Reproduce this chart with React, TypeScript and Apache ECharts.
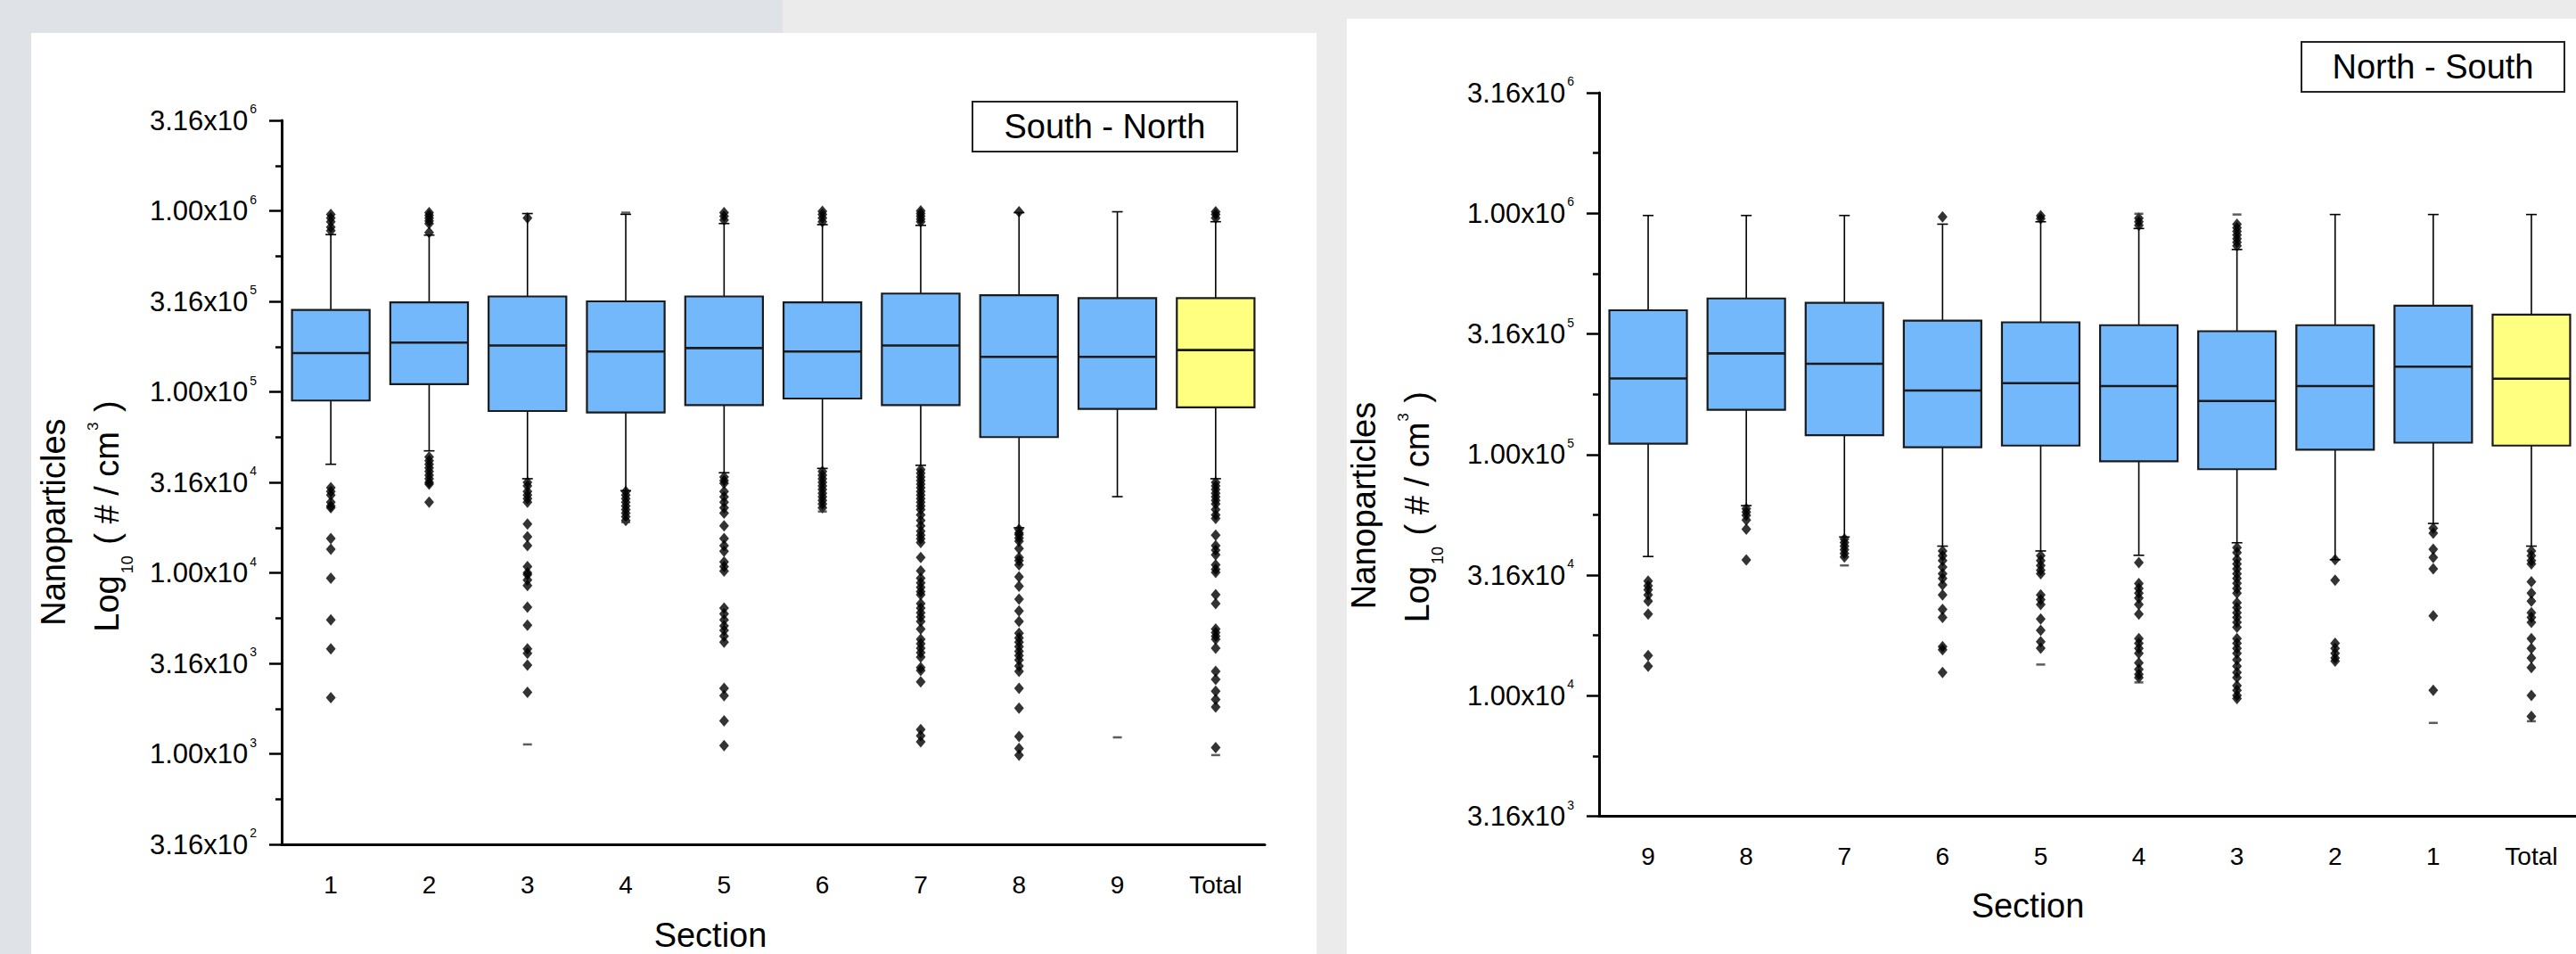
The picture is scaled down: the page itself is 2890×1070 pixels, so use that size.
import React, { useEffect, useRef } from 'react';
import * as echarts from 'echarts';

const FONT = '"Liberation Sans", Arial, Helvetica, sans-serif';
const BLUE = '#74b8fc';
const YELLOW = '#ffff80';

// ---------- South - North panel (values are log10 of #/cm3) ----------
const SN_CATEGORIES = ['1', '2', '3', '4', '5', '6', '7', '8', '9', 'Total'];
const SN_WHISKER_LOW = [4.6, 4.674, 4.52, 4.454, 4.553, 4.577, 4.594, 4.249, 4.421, 4.52];
const SN_Q1 = [4.952, 5.042, 4.894, 4.886, 4.927, 4.963, 4.927, 4.75, 4.906, 4.914];
const SN_MEDIAN = [5.214, 5.272, 5.256, 5.223, 5.242, 5.223, 5.256, 5.193, 5.193, 5.231];
const SN_Q3 = [5.453, 5.494, 5.527, 5.5, 5.527, 5.494, 5.543, 5.534, 5.518, 5.518];
const SN_WHISKER_HIGH = [5.869, 5.866, 5.985, 5.981, 5.93, 5.924, 5.92, 5.99, 5.995, 5.94];
const SN_OUTLIERS = [
  [5.98, 5.96, 5.94, 5.91, 5.89, 4.47, 4.45, 4.43, 4.39, 4.37, 4.36, 4.19, 4.13, 3.97, 3.74, 3.58, 3.31],
  [5.99, 5.975, 5.96, 5.945, 5.93, 5.88, 4.64, 4.62, 4.6, 4.58, 4.56, 4.54, 4.52, 4.5, 4.49, 4.39],
  [5.96, 4.5, 4.48, 4.45, 4.43, 4.41, 4.39, 4.27, 4.2, 4.15, 4.035, 4.0, 3.99, 3.96, 3.93, 3.81, 3.71, 3.58, 3.555, 3.49, 3.34],
  [4.45, 4.43, 4.41, 4.39, 4.37, 4.35, 4.33, 4.31, 4.29],
  [5.99, 5.97, 5.95, 4.53, 4.51, 4.495, 4.45, 4.42, 4.39, 4.36, 4.33, 4.26, 4.19, 4.15, 4.12, 4.06, 4.035, 4.01, 3.805, 3.773, 3.74, 3.707, 3.682, 3.65, 3.617, 3.362, 3.321, 3.182, 3.045],
  [5.998, 5.98, 5.96, 5.94, 4.56, 4.54, 4.52, 4.5, 4.48, 4.46, 4.44, 4.42, 4.4, 4.38, 4.36],
  [6.0, 5.985, 5.97, 5.955, 5.94, 4.57, 4.55, 4.53, 4.51, 4.49, 4.47, 4.45, 4.43, 4.41, 4.39, 4.37, 4.35, 4.32, 4.29, 4.26, 4.23, 4.208, 4.188, 4.167, 4.085, 4.011, 3.97, 3.945, 3.92, 3.896, 3.879, 3.83, 3.805, 3.78, 3.756, 3.731, 3.69, 3.633, 3.608, 3.584, 3.559, 3.534, 3.477, 3.46, 3.398, 3.134, 3.1, 3.067],
  [5.995, 4.24, 4.22, 4.21, 4.192, 4.175, 4.134, 4.085, 4.068, 4.044, 3.978, 3.926, 3.855, 3.789, 3.732, 3.666, 3.641, 3.617, 3.592, 3.567, 3.543, 3.518, 3.485, 3.456, 3.362, 3.252, 3.096, 3.029, 2.993],
  [],
  [5.995, 5.98, 5.96, 4.5, 4.48, 4.46, 4.44, 4.42, 4.4, 4.38, 4.35, 4.32, 4.3, 4.208, 4.15, 4.126, 4.1, 4.044, 4.02, 4.002, 3.879, 3.83, 3.69, 3.67, 3.65, 3.633, 3.584, 3.456, 3.411, 3.346, 3.3, 3.259, 3.034],
];
const SN_MIN_MAX = [[], [], [3.052], [5.99, 4.28], [], [4.339], [], [], [3.091], [2.993]];

// ---------- North - South panel ----------
const NS_CATEGORIES = ['9', '8', '7', '6', '5', '4', '3', '2', '1', 'Total'];
const NS_WHISKER_LOW = [4.577, 4.788, 4.658, 4.62, 4.6, 4.582, 4.634, 4.564, 4.714, 4.62];
const NS_Q1 = [5.045, 5.185, 5.08, 5.03, 5.037, 4.972, 4.939, 5.02, 5.049, 5.037];
const NS_MEDIAN = [5.315, 5.419, 5.376, 5.265, 5.296, 5.284, 5.222, 5.284, 5.364, 5.314];
const NS_Q3 = [5.598, 5.647, 5.629, 5.555, 5.548, 5.536, 5.511, 5.536, 5.617, 5.58];
const NS_WHISKER_HIGH = [5.991, 5.991, 5.991, 5.955, 5.965, 5.937, 5.85, 5.995, 5.995, 5.995];
const NS_OUTLIERS = [
  [4.475, 4.456, 4.439, 4.418, 4.392, 4.338, 4.166, 4.122],
  [4.775, 4.762, 4.748, 4.728, 4.69, 4.563],
  [4.65, 4.635, 4.62, 4.605, 4.59, 4.575],
  [5.985, 4.6, 4.58, 4.56, 4.533, 4.506, 4.486, 4.459, 4.418, 4.358, 4.324, 4.203, 4.19, 4.096],
  [5.99, 5.978, 4.58, 4.56, 4.54, 4.52, 4.506, 4.418, 4.398, 4.378, 4.318, 4.271, 4.224, 4.197],
  [5.98, 5.965, 5.95, 4.552, 4.465, 4.445, 4.425, 4.405, 4.378, 4.338, 4.237, 4.217, 4.196, 4.176, 4.136, 4.109, 4.089, 4.075],
  [5.955, 5.94, 5.925, 5.91, 5.895, 5.88, 5.865, 4.614, 4.593, 4.566, 4.546, 4.526, 4.506, 4.486, 4.466, 4.445, 4.425, 4.385, 4.365, 4.344, 4.324, 4.304, 4.284, 4.237, 4.217, 4.196, 4.176, 4.149, 4.122, 4.096, 4.075, 4.042, 4.022, 4.001, 3.988],
  [4.564, 4.479, 4.217, 4.196, 4.176, 4.156, 4.143],
  [4.694, 4.674, 4.607, 4.573, 4.526, 4.331, 4.022],
  [4.6, 4.58, 4.56, 4.546, 4.472, 4.425, 4.392, 4.344, 4.324, 4.304, 4.237, 4.196, 4.156, 4.116, 4.001, 3.914],
];
const NS_MIN_MAX = [[], [], [4.54], [], [4.129], [5.998, 4.055], [5.995], [], [3.887], [3.894]];

function tickLabel(v: number) {
  const e = Math.floor(v + 1e-6);
  const m = Math.pow(10, v - e);
  return `{m|${m.toFixed(2)}x10}{e|${e}}`;
}

function renderBox(cats: string[]) {
  return (params: any, api: any) => {
    const i = api.value(0);
    const pLo = api.coord([i, api.value(1)]);
    const pQ1 = api.coord([i, api.value(2)]);
    const pMd = api.coord([i, api.value(3)]);
    const pQ3 = api.coord([i, api.value(4)]);
    const pHi = api.coord([i, api.value(5)]);
    const band = api.size([1, 0])[0];
    const w = band * 0.79;
    const cx = pMd[0];
    const cap = 6;
    const fill = cats[params.dataIndex] === 'Total' ? YELLOW : BLUE;
    const thin = { stroke: '#000', lineWidth: 1.6 };
    return {
      type: 'group',
      children: [
        { type: 'line', shape: { x1: cx, y1: pHi[1], x2: cx, y2: pQ3[1] }, style: thin },
        { type: 'line', shape: { x1: cx, y1: pQ1[1], x2: cx, y2: pLo[1] }, style: thin },
        { type: 'line', shape: { x1: cx - cap, y1: pHi[1], x2: cx + cap, y2: pHi[1] }, style: thin },
        { type: 'line', shape: { x1: cx - cap, y1: pLo[1], x2: cx + cap, y2: pLo[1] }, style: thin },
        {
          type: 'rect',
          shape: { x: cx - w / 2, y: pQ3[1], width: w, height: pQ1[1] - pQ3[1] },
          style: { fill, stroke: '#1a1a1a', lineWidth: 2.2 },
        },
        {
          type: 'line',
          shape: { x1: cx - w / 2, y1: pMd[1], x2: cx + w / 2, y2: pMd[1] },
          style: { stroke: '#1a1a1a', lineWidth: 2.6 },
        },
      ],
    };
  };
}

function panelSeries(
  g: number,
  cats: string[],
  lo: number[],
  q1: number[],
  md: number[],
  q3: number[],
  hi: number[],
  outliers: number[][],
  minmax: number[][]
) {
  return [
    {
      type: 'custom',
      xAxisIndex: g,
      yAxisIndex: g,
      z: 2,
      encode: { x: 0, y: [1, 2, 3, 4, 5] },
      data: cats.map((_, i) => [i, lo[i], q1[i], md[i], q3[i], hi[i]]),
      renderItem: renderBox(cats),
    },
    {
      type: 'scatter',
      xAxisIndex: g,
      yAxisIndex: g,
      z: 4,
      symbol: 'diamond',
      symbolSize: [11, 13],
      itemStyle: { color: '#000' },
      data: outliers.flatMap((arr, i) => arr.map((v) => [i, v])),
    },
    {
      type: 'scatter',
      xAxisIndex: g,
      yAxisIndex: g,
      z: 4,
      symbol: 'rect',
      symbolSize: [10, 2.5],
      itemStyle: { color: '#333' },
      data: minmax.flatMap((arr, i) => arr.map((v) => [i, v])),
    },
  ];
}

function xAxis(g: number, cats: string[]) {
  return {
    type: 'category',
    gridIndex: g,
    data: cats,
    boundaryGap: true,
    axisLine: { onZero: false, lineStyle: { color: '#000', width: 3 } },
    axisTick: { alignWithLabel: true, length: 17, lineStyle: { color: '#000', width: 2.5 } },
    axisLabel: { margin: 31, fontSize: 28, color: '#000', fontFamily: FONT },
    splitLine: { show: false },
  };
}

function yAxis(g: number, min: number) {
  return {
    type: 'value',
    gridIndex: g,
    min,
    max: 6.5,
    interval: 0.5,
    axisLine: { show: true, onZero: false, lineStyle: { color: '#000', width: 3 } },
    axisTick: { show: true, length: 14, lineStyle: { color: '#000', width: 2.5 } },
    minorTick: { show: true, splitNumber: 2, length: 7, lineStyle: { color: '#000', width: 2.5 } },
    splitLine: { show: false },
    axisLabel: {
      margin: 28,
      formatter: tickLabel,
      rich: {
        m: { fontSize: 31, lineHeight: 40, color: '#000', fontFamily: FONT },
        e: { fontSize: 14, lineHeight: 14, verticalAlign: 'top', color: '#000', fontFamily: FONT, padding: [0, 0, 0, 2] },
      },
    },
  };
}

function yTitle(x1: number, y1: number, x2: number, y2: number) {
  return [
    {
      type: 'text',
      x: x1,
      y: y1,
      rotation: Math.PI / 2,
      style: {
        text: 'Nanoparticles',
        fontSize: 38,
        fontFamily: FONT,
        fill: '#000',
        align: 'center',
        verticalAlign: 'middle',
      },
    },
    {
      type: 'text',
      x: x2,
      y: y2,
      rotation: Math.PI / 2,
      style: {
        text: '{a|Log}{b|10}{a| ( # / cm}{c|3}{a| )}',
        fill: '#000',
        align: 'center',
        verticalAlign: 'middle',
        rich: {
          a: { fontSize: 38, lineHeight: 64, fontFamily: FONT, fill: '#000' },
          b: { fontSize: 18, lineHeight: 17, verticalAlign: 'bottom', fontFamily: FONT, fill: '#000', padding: [0, 2, 0, 2] },
          c: { fontSize: 17, lineHeight: 15, verticalAlign: 'top', padding: [8, 1, 0, 1], fontFamily: FONT, fill: '#000' },
        },
      },
    },
  ];
}

function labelBox(x: number, y: number, w: number, h: number, text: string) {
  return [
    { type: 'rect', shape: { x, y, width: w, height: h }, style: { fill: '#fff', stroke: '#222', lineWidth: 2 } },
    {
      type: 'text',
      x: x + w / 2,
      y: y + h / 2,
      style: { text, fontSize: 38, fontFamily: FONT, fill: '#000', align: 'center', verticalAlign: 'middle' },
    },
  ];
}

function sectionTitle(x: number, y: number) {
  return {
    type: 'text',
    x,
    y,
    style: { text: 'Section', fontSize: 38, fontFamily: FONT, fill: '#000', align: 'center', verticalAlign: 'middle' },
  };
}

export default function App() {
  const ref = useRef<HTMLDivElement>(null);
  useEffect(() => {
    const chart = echarts.init(ref.current!, null, { renderer: 'svg' });
    const option: any = {
      animation: false,
      backgroundColor: 'transparent',
      grid: [
        { left: 316, top: 135, width: 1103, height: 812, containLabel: false, outerBoundsMode: 'none' },
        { left: 1794, top: 104, width: 1101, height: 811.5, containLabel: false, outerBoundsMode: 'none' },
      ],
      xAxis: [xAxis(0, SN_CATEGORIES), xAxis(1, NS_CATEGORIES)],
      yAxis: [yAxis(0, 2.5), yAxis(1, 3.5)],
      series: [
        ...panelSeries(0, SN_CATEGORIES, SN_WHISKER_LOW, SN_Q1, SN_MEDIAN, SN_Q3, SN_WHISKER_HIGH, SN_OUTLIERS, SN_MIN_MAX),
        ...panelSeries(1, NS_CATEGORIES, NS_WHISKER_LOW, NS_Q1, NS_MEDIAN, NS_Q3, NS_WHISKER_HIGH, NS_OUTLIERS, NS_MIN_MAX),
      ],
      graphic: [
        ...yTitle(60.1, 585.6, 119.8, 579),
        ...yTitle(1530.1, 567, 1590.1, 568.7),
        ...labelBox(1091, 114, 297, 56, 'South - North'),
        ...labelBox(2582, 47, 295, 56, 'North - South'),
        sectionTitle(797, 1048.5),
        sectionTitle(2275, 1015.8),
      ],
    };
    chart.setOption(option);
    return () => chart.dispose();
  }, []);
  return (
    <div style={{ position: 'absolute', left: 0, top: 0, width: 2890, height: 1070, background: '#ebebeb', overflow: 'hidden' }}>
      <div style={{ position: 'absolute', left: 0, top: 0, width: 878, height: 37, background: '#dfe3e8' }} />
      <div style={{ position: 'absolute', left: 0, top: 0, width: 35, height: 1070, background: '#dfe3e8' }} />
      <div style={{ position: 'absolute', left: 35, top: 37, width: 1442, height: 1033, background: '#fff' }} />
      <div style={{ position: 'absolute', left: 1511, top: 21, width: 1379, height: 1049, background: '#fff' }} />
      <div ref={ref} style={{ position: 'absolute', left: 0, top: 0, width: 2890, height: 1070 }} />
    </div>
  );
}
